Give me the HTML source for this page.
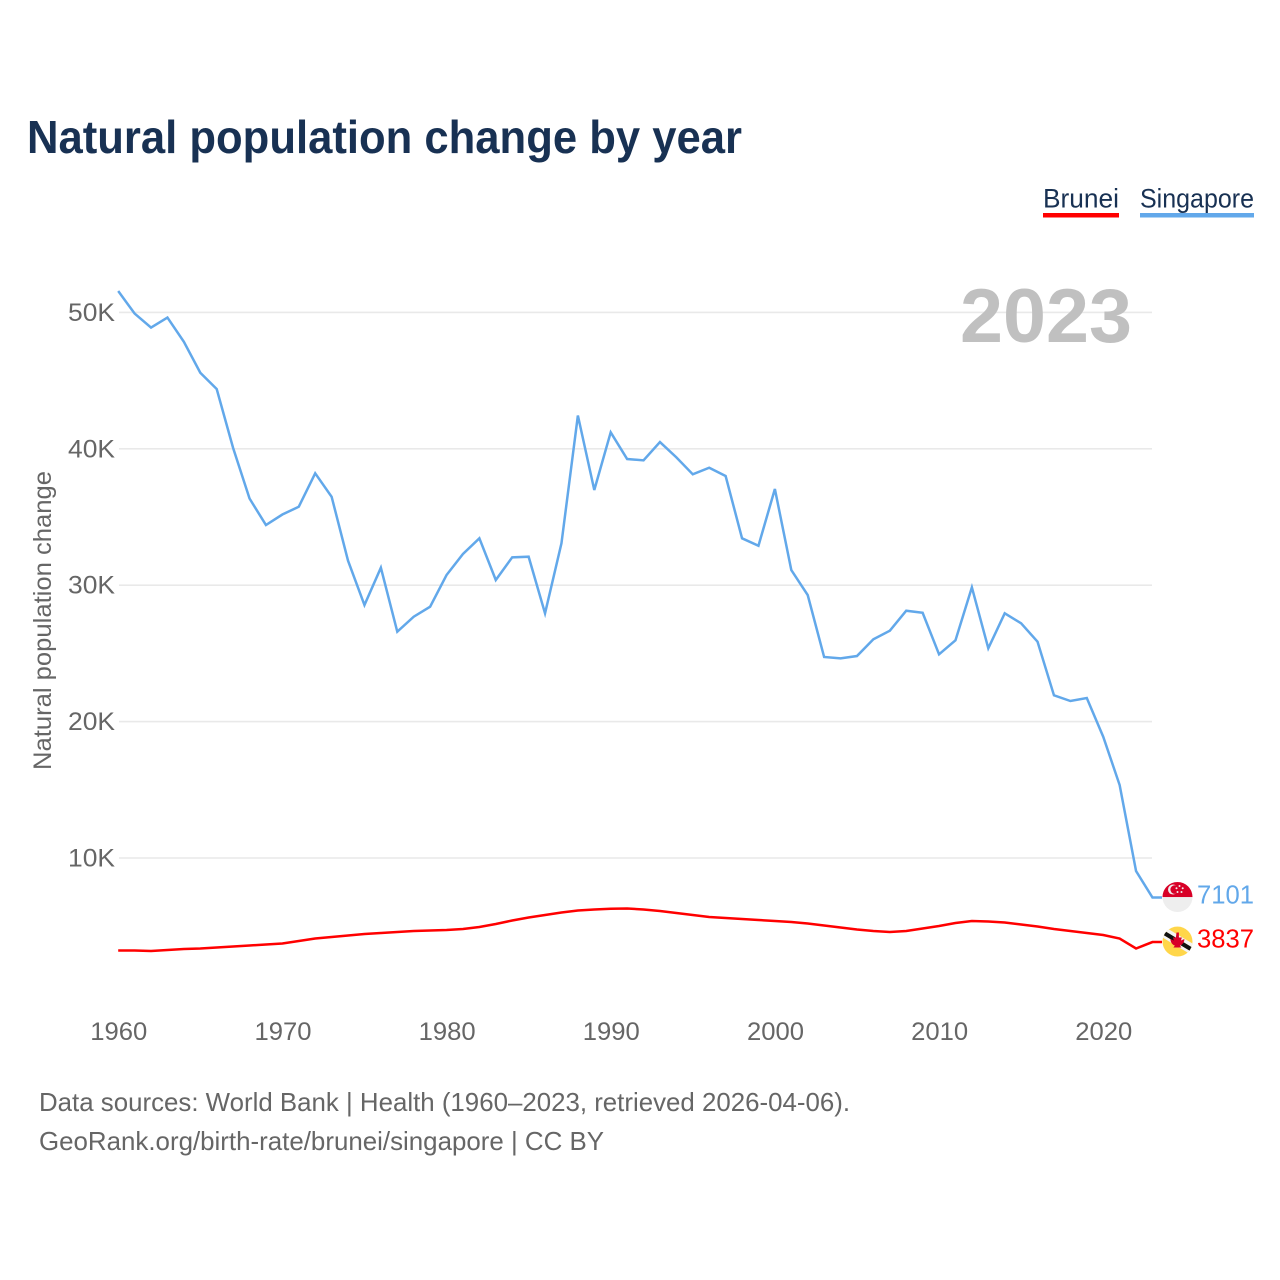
<!DOCTYPE html>
<html lang="en">
<head>
<meta charset="utf-8">
<title>Natural population change by year</title>
<style>
html,body{margin:0;padding:0;background:#fff}
svg{display:block}
text{font-family:"Liberation Sans",sans-serif}
</style>
</head>
<body>
<svg id="chart" xmlns="http://www.w3.org/2000/svg" width="1280" height="1280" viewBox="0 0 1280 1280">
  <defs>
    <clipPath id="flag-clip-sg"><circle cx="0" cy="0" r="15"/></clipPath>
    <clipPath id="flag-clip-bn"><circle cx="0" cy="0" r="15"/></clipPath>
  </defs>
  <rect width="1280" height="1280" fill="#fff"/>
  <text x="27" y="153" font-size="46" font-weight="700" fill="#183153" textLength="715" lengthAdjust="spacingAndGlyphs">Natural population change by year</text>

  <g>
    <g>
      <text x="1043" y="207.500" font-size="27" fill="#183153" textLength="76" lengthAdjust="spacingAndGlyphs">Brunei</text>
      <rect x="1043" y="213" width="76" height="4.5" fill="#ff0000"/>
    </g>
    <g>
      <text x="1140" y="207.500" font-size="27" fill="#183153" textLength="114" lengthAdjust="spacingAndGlyphs">Singapore</text>
      <rect x="1140" y="213" width="114" height="4.5" fill="#62a8ea"/>
    </g>
  </g>

  <g id="grid"></g>
  <g id="y-ticks"></g>
  <g id="x-ticks"></g>

  <text transform="translate(51 770) rotate(-90)" font-size="25" fill="#666" textLength="299" lengthAdjust="spacingAndGlyphs">Natural population change</text>
  <text id="year-label" x="1132" y="342" text-anchor="end" font-size="76" font-weight="700" fill="#c0c0c0" textLength="172" lengthAdjust="spacingAndGlyphs"></text>

  <g id="series"></g>

  <g id="flag-sg">
    <g clip-path="url(#flag-clip-sg)">
      <rect x="-15" y="-15" width="30" height="30" fill="#eeeeee"/>
      <rect x="-15" y="-15" width="30" height="15" fill="#d80027"/>
      <circle cx="-4.5" cy="-7.5" r="5" fill="#eeeeee"/>
      <circle cx="-2.8" cy="-7.5" r="4.3" fill="#d80027"/>
      <circle cx="2" cy="-11" r="1" fill="#eeeeee"/>
      <circle cx="5.2" cy="-8.8" r="1" fill="#eeeeee"/>
      <circle cx="4" cy="-5" r="1" fill="#eeeeee"/>
      <circle cx="0" cy="-5" r="1" fill="#eeeeee"/>
      <circle cx="-1" cy="-8.8" r="1" fill="#eeeeee"/>
    </g>
  </g>
  <g id="flag-bn">
    <g clip-path="url(#flag-clip-bn)">
      <rect x="-15" y="-15" width="30" height="30" fill="#ffd64a"/>
      <polygon points="-15,-12 -15,-7 15,11 15,6" fill="#111111"/>
      <polygon points="-15,-16 -15,-12 15,6 15,2" fill="#f4f4f4"/>
      <polygon points="-15,-7 -15,-4 15,14 15,11" fill="#f4f4f4"/>
      <path d="M-1-9h2.4v5h3l-1 3 3.500-1.500c0 3-2 6-4.500 6.500l1.500 2h-8l1.500-2c-2.500-.5-4.500-3.500-4.500-6.500l3.500 1.500-1-3h3z" fill="#d80027"/>
    </g>
  </g>
  <text id="end-sg" x="1197" font-size="26" fill="#62a8ea" textLength="57" lengthAdjust="spacingAndGlyphs"></text>
  <text id="end-bn" x="1197" font-size="26" fill="#ff0000" textLength="57" lengthAdjust="spacingAndGlyphs"></text>

  <g>
    <text x="39" y="1111" font-size="26" fill="#666" textLength="811" lengthAdjust="spacingAndGlyphs">Data sources: World Bank | Health (1960–2023, retrieved 2026-04-06).</text>
    <text x="39" y="1150" font-size="26" fill="#666" textLength="565" lengthAdjust="spacingAndGlyphs">GeoRank.org/birth-rate/brunei/singapore | CC BY</text>
  </g>
</svg>

<script>
const firstYear = 1960;
const xTickYears = [1960, 1970, 1980, 1990, 2000, 2010, 2020];
const yTickValues = [10000, 20000, 30000, 40000, 50000];
const singaporeValues = [51566, 49917, 48890, 49624, 47849, 45577, 44382, 40057, 36354, 34412,
  35182, 35753, 38202, 36486, 31795, 28547, 31281, 26589, 27689, 28422,
  30746, 32286, 33437, 30380, 32044, 32088, 27938, 33070, 42439, 36978,
  41208, 39250, 39155, 40496, 39375, 38129, 38612, 38004, 33437, 32894,
  37051, 31113, 29280, 24735, 24640, 24808, 26033, 26663, 28129, 27982,
  24933, 25959, 29844, 25373, 27938, 27205, 25856, 21927, 21509, 21729,
  18892, 15351, 9046, 7101];
const bruneiValues = [3218, 3218, 3182, 3255, 3328, 3365, 3438, 3512, 3585, 3658,
  3731, 3915, 4098, 4208, 4318, 4428, 4501, 4575, 4648, 4685,
  4721, 4794, 4941, 5161, 5418, 5638, 5821, 6004, 6151, 6224,
  6275, 6297, 6224, 6114, 5967, 5821, 5674, 5601, 5528, 5454,
  5381, 5308, 5198, 5051, 4904, 4758, 4648, 4575, 4648, 4831,
  5014, 5234, 5381, 5344, 5271, 5124, 4978, 4794, 4648, 4501,
  4355, 4098, 3365, 3837];

const SVG_NS = 'http://www.w3.org/2000/svg';
const xScale = function (year) { return 118.2 + (year - 1960) * 16.417; };
const yScale = function (value) { return 994.4 - value * 0.01364; };
const plotLeft = 119;
const plotRight = 1152;
const connectorEnd = 1162;

const gridGroup = document.getElementById('grid');
const yTickGroup = document.getElementById('y-ticks');
const xTickGroup = document.getElementById('x-ticks');
const seriesGroup = document.getElementById('series');

yTickValues.forEach(function (value) {
  const y = yScale(value);
  const line = document.createElementNS(SVG_NS, 'line');
  
  
  line.setAttribute('x1', plotLeft);
  line.setAttribute('x2', plotRight);
  line.setAttribute('y1', y);
  line.setAttribute('y2', y);
  line.setAttribute('stroke', '#e9e9e9');
  line.setAttribute('stroke-width', 1.6);
  gridGroup.appendChild(line);

  const label = document.createElementNS(SVG_NS, 'text');
  
  
  label.setAttribute('x', 115);
  label.setAttribute('y', y + 8.5);
  label.setAttribute('text-anchor', 'end');
  label.setAttribute('font-size', 25);
  label.setAttribute('fill', '#666');
  label.setAttribute('textLength', 47);
  label.setAttribute('lengthAdjust', 'spacingAndGlyphs');
  label.textContent = (value / 1000) + 'K';
  yTickGroup.appendChild(label);
});

xTickYears.forEach(function (year) {
  const label = document.createElementNS(SVG_NS, 'text');
  
  
  label.setAttribute('x', xScale(year) + 0.6);
  label.setAttribute('y', 1040);
  label.setAttribute('text-anchor', 'middle');
  label.setAttribute('font-size', 25);
  label.setAttribute('fill', '#666');
  label.setAttribute('textLength', 57);
  label.setAttribute('lengthAdjust', 'spacingAndGlyphs');
  label.textContent = String(year);
  xTickGroup.appendChild(label);
});

function seriesPath(values) {
  let d = '';
  values.forEach(function (value, i) {
    d += (i === 0 ? 'M' : 'L') + xScale(firstYear + i).toFixed(2) + ' ' + yScale(value).toFixed(2);
  });
  d += 'L' + connectorEnd + ' ' + yScale(values[values.length - 1]).toFixed(2);
  return d;
}

const bruneiLine = document.createElementNS(SVG_NS, 'path');


bruneiLine.setAttribute('d', seriesPath(bruneiValues));
bruneiLine.setAttribute('fill', 'none');
bruneiLine.setAttribute('stroke', '#ff0000');
bruneiLine.setAttribute('stroke-width', 2.5);
seriesGroup.appendChild(bruneiLine);

const singaporeLine = document.createElementNS(SVG_NS, 'path');


singaporeLine.setAttribute('d', seriesPath(singaporeValues));
singaporeLine.setAttribute('fill', 'none');
singaporeLine.setAttribute('stroke', '#62a8ea');
singaporeLine.setAttribute('stroke-width', 2.5);
seriesGroup.appendChild(singaporeLine);

const lastSingapore = singaporeValues[singaporeValues.length - 1];
const lastBrunei = bruneiValues[bruneiValues.length - 1];
document.getElementById('flag-sg').setAttribute('transform', 'translate(1177.5 ' + (yScale(lastSingapore) - 0.5).toFixed(2) + ')');
document.getElementById('flag-bn').setAttribute('transform', 'translate(1177.5 ' + (yScale(lastBrunei) - 0.5).toFixed(2) + ')');
const endSingapore = document.getElementById('end-sg');
endSingapore.setAttribute('y', (yScale(lastSingapore) + 6).toFixed(2));
endSingapore.textContent = String(lastSingapore);
const endBrunei = document.getElementById('end-bn');
endBrunei.setAttribute('y', (yScale(lastBrunei) + 5.5).toFixed(2));
endBrunei.textContent = String(lastBrunei);
document.getElementById('year-label').textContent = String(firstYear + singaporeValues.length - 1);
</script>
</body>
</html>
